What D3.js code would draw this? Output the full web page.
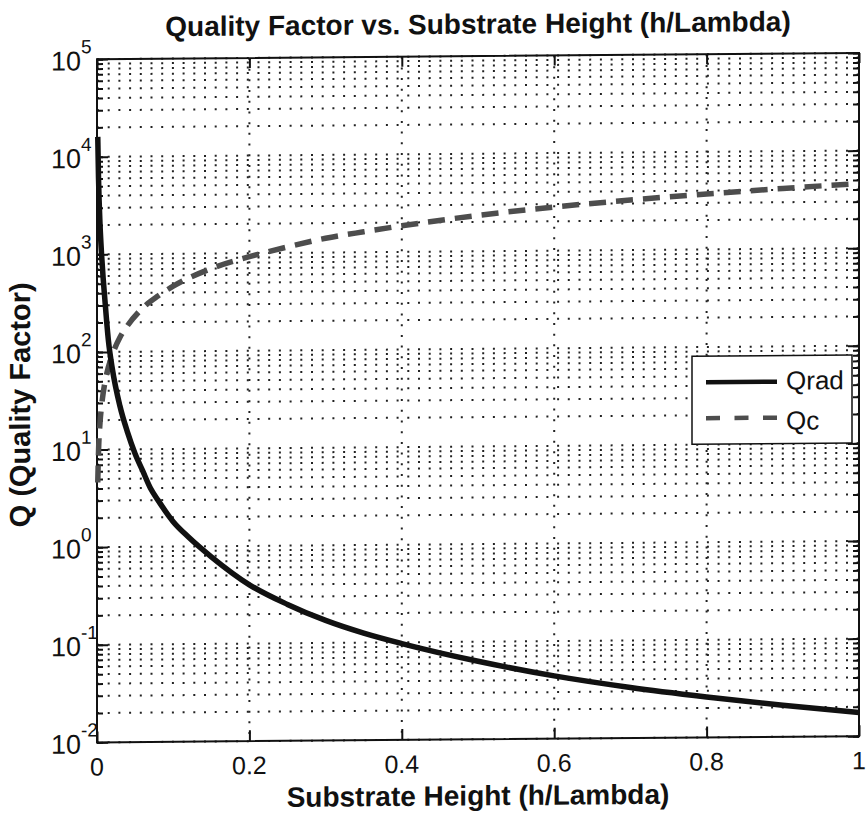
<!DOCTYPE html>
<html>
<head>
<meta charset="utf-8">
<script src="https://cdn.jsdelivr.net/npm/d3@7"></script>
<style>
    body { margin: 0; background: #fff; }
    text { font-family: "Liberation Sans", Arial, sans-serif; fill: #111; }
</style>
</head>
<body>
<script>
    // values
    var qradH = [0.001, 0.002, 0.004, 0.006, 0.008, 0.01, 0.015, 0.02, 0.03, 0.04, 0.05, 0.06, 0.07, 0.08, 0.1, 0.12, 0.15, 0.2, 0.25, 0.3, 0.35, 0.4, 0.5, 0.6, 0.7, 0.8, 0.9, 1.0];
    var qradValues = [16000, 6000, 2000, 1000, 580, 370, 130, 68, 28, 15, 9, 6, 4, 3, 1.8, 1.25, 0.78, 0.4, 0.25, 0.17, 0.125, 0.097, 0.063, 0.044, 0.033, 0.026, 0.021, 0.0175];

    var qcH = [0.001, 0.002, 0.004, 0.006, 0.01, 0.015, 0.02, 0.03, 0.04, 0.06, 0.08, 0.1, 0.15, 0.2, 0.25, 0.3, 0.35, 0.4, 0.5, 0.6, 0.7, 0.8, 0.9, 1.0];
    var qcValues = [4.6, 9.5, 19, 28, 47, 70, 93, 140, 185, 280, 370, 465, 700, 920, 1150, 1400, 1620, 1850, 2330, 2800, 3250, 3700, 4150, 4600];

    var xTicks = [0, 0.2, 0.4, 0.6, 0.8, 1];
    var xTickLabels = ["0", "0.2", "0.4", "0.6", "0.8", "1"];
    var yExponents = [-2, -1, 0, 1, 2, 3, 4, 5];
    var seriesNames = ["Qrad", "Qc"];

    var margin = {top: 60, right: 7, bottom: 75.8, left: 97};
    var width = 866 - margin.left - margin.right;
    var height = 819 - margin.top - margin.bottom;

    var x = d3.scaleLinear().domain([0, 1]).range([0, width]);
    var y = d3.scaleLog().domain([1e-2, 1e5]).range([height, 0]);

    // minor + major tick values on the log axis
    var yMinor = [];
    yExponents.forEach(function(e) {
        for (var m = 1; m <= 9; m++) {
            if (e === 5 && m > 1) break;
            yMinor.push(m * Math.pow(10, e));
        }
    });
    var yMajor = yExponents.map(function(e) { return Math.pow(10, e); });

    var svg = d3.select("body")
        .append("svg")
        .attr("width", 866)
        .attr("height", 819);

    // the scan is slightly skewed
    var root = svg.append("g").attr("transform", "skewY(-0.47)");

    var g = root.append("g")
        .attr("transform", "translate(" + margin.left + "," + margin.top + ")");

    // dotted grid
    g.append("g").selectAll("line")
        .data(yMinor)
        .enter().append("line")
        .attr("x1", 0).attr("x2", width)
        .attr("y1", function(d) { return y(d); })
        .attr("y2", function(d) { return y(d); })
        .attr("stroke", "#222")
        .attr("stroke-width", 2)
        .attr("stroke-dasharray", "2,8.7");

    g.append("g").selectAll("line")
        .data(xTicks.slice(1, -1))
        .enter().append("line")
        .attr("x1", function(d) { return x(d); })
        .attr("x2", function(d) { return x(d); })
        .attr("y1", 0).attr("y2", height)
        .attr("stroke", "#222")
        .attr("stroke-width", 2)
        .attr("stroke-dasharray", "2,8.7");

    // ticks (pointing inward) on all four sides
    function noLabel() { return ""; }
    g.append("g").call(d3.axisLeft(y).tickValues(yMinor).tickSize(-6).tickFormat(noLabel));
    g.append("g").call(d3.axisLeft(y).tickValues(yMajor).tickSize(-11).tickFormat(noLabel));
    g.append("g").attr("transform", "translate(" + width + ",0)")
        .call(d3.axisRight(y).tickValues(yMinor).tickSize(-6).tickFormat(noLabel));
    g.append("g").attr("transform", "translate(" + width + ",0)")
        .call(d3.axisRight(y).tickValues(yMajor).tickSize(-11).tickFormat(noLabel));
    g.append("g").attr("transform", "translate(0," + height + ")")
        .call(d3.axisBottom(x).tickValues(xTicks).tickSize(-11).tickFormat(noLabel));
    g.append("g")
        .call(d3.axisTop(x).tickValues(xTicks).tickSize(-10).tickFormat(noLabel));
    g.selectAll(".domain").remove();
    g.selectAll(".tick line").attr("stroke", "#111").attr("stroke-width", 2);

    // frame
    g.append("rect")
        .attr("width", width).attr("height", height)
        .attr("fill", "none")
        .attr("stroke", "#111")
        .attr("stroke-width", 2);

    // curves
    var qradData = qradH.map(function(h, i) { return {h: h, q: qradValues[i]}; });
    var qcData = qcH.map(function(h, i) { return {h: h, q: qcValues[i]}; });

    var line = d3.line()
        .curve(d3.curveMonotoneX)
        .x(function(d) { return x(d.h); })
        .y(function(d) { return y(d.q); });

    g.append("path")
        .datum(qcData)
        .attr("fill", "none")
        .attr("stroke", "#4d4d4d")
        .attr("stroke-width", 5.5)
        .attr("stroke-dasharray", "17,10")
        .attr("d", line);

    g.append("path")
        .datum(qradData)
        .attr("fill", "none")
        .attr("stroke", "#111")
        .attr("stroke-width", 5.5)
        .attr("stroke-linejoin", "round")
        .attr("d", line);

    // y tick labels 10^k
    var yl = g.append("g").selectAll("text")
        .data(yExponents)
        .enter().append("text")
        .attr("x", -46)
        .attr("y", function(d) { return y(Math.pow(10, d)) + 11; })
        .style("font-size", "27px");
    yl.append("tspan").text("10");
    yl.append("tspan")
        .attr("dy", -17)
        .style("font-size", "19px")
        .text(function(d) { return String(d); });

    // x tick labels
    g.append("g").selectAll("text")
        .data(xTicks)
        .enter().append("text")
        .attr("x", function(d) { return x(d); })
        .attr("y", height + 33)
        .attr("text-anchor", "middle")
        .style("font-size", "25px")
        .text(function(d, i) { return xTickLabels[i]; });

    // titles
    g.append("text")
        .attr("x", width / 2)
        .attr("y", -22.5)
        .attr("text-anchor", "middle")
        .style("font-size", "28px")
        .style("font-weight", "bold")
        .text("Quality Factor vs. Substrate Height (h/Lambda)");

    g.append("text")
        .attr("x", width / 2)
        .attr("y", height + 66)
        .attr("text-anchor", "middle")
        .style("font-size", "28px")
        .style("font-weight", "bold")
        .text("Substrate Height (h/Lambda)");

    g.append("text")
        .attr("transform", "translate(" + (-67) + "," + (345) + ") rotate(-90)")
        .attr("text-anchor", "middle")
        .style("font-size", "29px")
        .style("font-weight", "bold")
        .text("Q (Quality Factor)");

    // legend
    var legend = g.append("g")
        .attr("transform", "translate(" + (width - 167) + "," + 302 + ")");
    legend.append("rect")
        .attr("width", 160).attr("height", 88)
        .attr("fill", "#fff")
        .attr("stroke", "#111")
        .attr("stroke-width", 1.5);
    legend.append("line")
        .attr("x1", 14).attr("x2", 85)
        .attr("y1", 26).attr("y2", 26)
        .attr("stroke", "#111").attr("stroke-width", 4.5);
    legend.append("line")
        .attr("x1", 14).attr("x2", 85)
        .attr("y1", 62).attr("y2", 62)
        .attr("stroke", "#4d4d4d").attr("stroke-width", 4.5)
        .attr("stroke-dasharray", "14,14.5");
    legend.selectAll(".lbl")
        .data(seriesNames)
        .enter().append("text")
        .attr("class", "lbl")
        .attr("x", 94)
        .attr("y", function(d, i) { return 34 + i * 40; })
        .style("font-size", "26px")
        .text(function(d) { return d; });
</script>
</body>
</html>
